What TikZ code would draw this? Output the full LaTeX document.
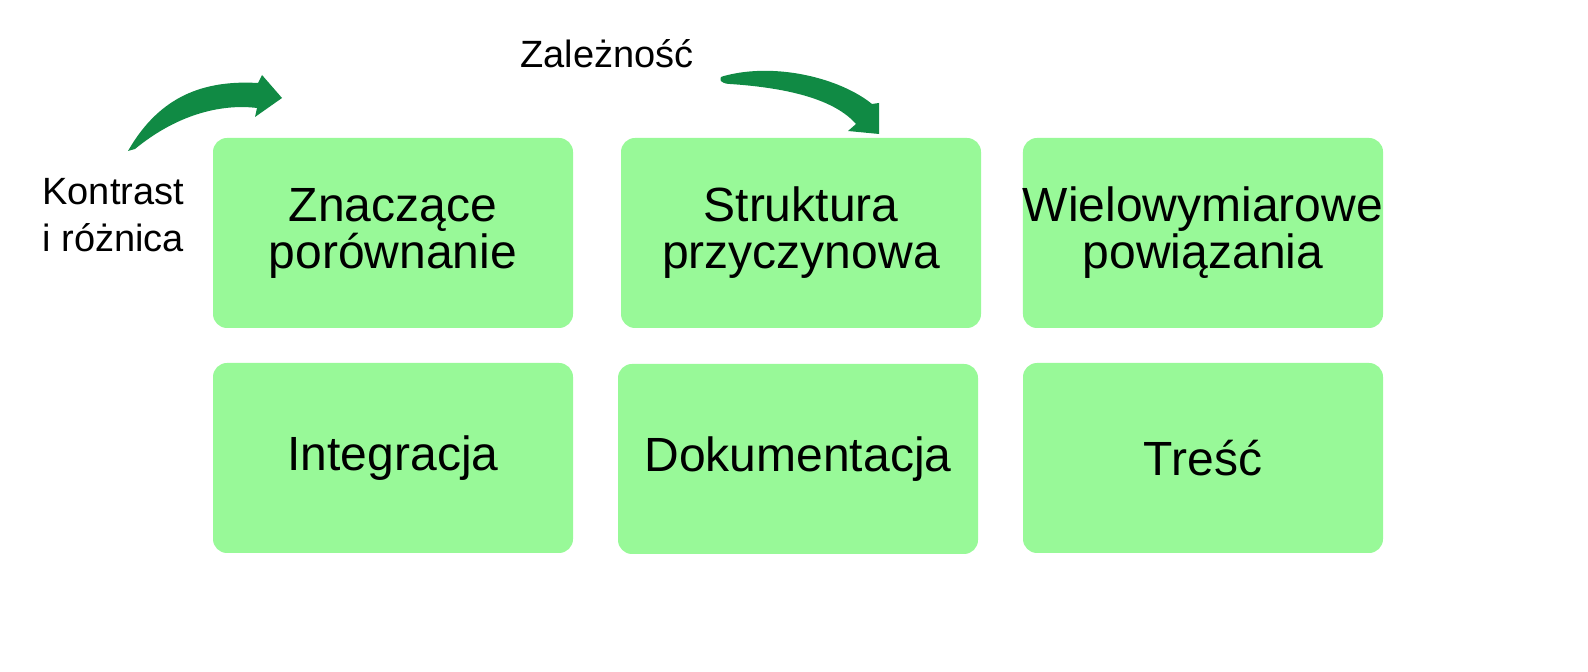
\documentclass[tikz,border=0pt]{standalone}
\usepackage{fontspec}
\setmainfont{Liberation Sans}
\definecolor{tilegreen}{RGB}{152,249,152}
\definecolor{arrowgreen}{RGB}{16,138,68}

\begin{document}
\begin{tikzpicture}[x=0.5pt, y=-0.5pt,
    card/.style={fill=tilegreen, rounded corners=7pt, minimum width=180pt,
      minimum height=95pt, inner sep=0pt, align=center,
      font=\fontsize{24}{23.5}\selectfont},
    note/.style={inner sep=0pt, align=left, font=\fontsize{19}{23.5}\selectfont}]
  \useasboundingbox (0,0) rectangle (1588,672);

  % Tiles
  \node[card] (compare) at (393,233) {Znaczące\\porównanie};
  \node[card] (cause) at (801,233) {Struktura\\przyczynowa};
  \node[card] (multi) at (1203,233) {Wielowymiarowe\\powiązania};
  \node[card] (integr) at (393,458) {Integracja};
  \node[card] (docs) at (798,459) {Dokumentacja};
  \node[card] (content) at (1203,458) {Treść};

  % Labels
  \node[note, anchor=north west] (contrast) at (42,178) {Kontrast\\i różnica};
  \node[note, anchor=base west] (depend) at (520,68) {Zależność};

  % Curved arrows
  \fill[arrowgreen] (128,151) .. controls (160,95) and (205,80) .. (258,83)
    -- (262,75) -- (282,98) -- (255,117) -- (257,108)
    .. controls (225,104) and (180,112) .. (135,149) -- cycle;
  \fill[arrowgreen] (724,76) .. controls (775,62) and (840,78) .. (872,104)
    -- (879,103) -- (879,134) -- (848,131) -- (856,124)
    .. controls (835,100) and (790,88) .. (730,84)
    .. controls (720,84) and (717,77) .. (724,76) -- cycle;
\end{tikzpicture}
\end{document}
